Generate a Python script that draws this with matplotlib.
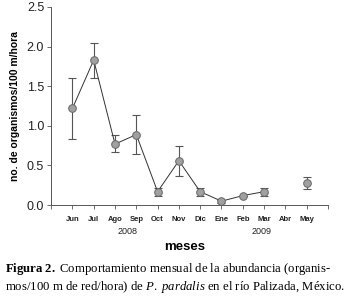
import numpy as np
import matplotlib
matplotlib.use("Agg")
import matplotlib.pyplot as plt

months = ["Jun", "Jul", "Ago", "Sep", "Oct", "Nov", "Dic", "Ene", "Feb", "Mar", "Abr", "May"]
values = [1.22, 1.83, 0.77, 0.89, 0.17, 0.56, 0.17, 0.05, 0.12, 0.17, np.nan, 0.28]
err_low = [0.38, 0.22, 0.10, 0.25, 0.05, 0.19, 0.05, 0.02, 0.0, 0.05, np.nan, 0.08]
err_high = [0.38, 0.22, 0.12, 0.25, 0.05, 0.19, 0.05, 0.02, 0.0, 0.05, np.nan, 0.08]
years = ["2008", "2009"]

plt.rcParams['font.family'] = ['Liberation Sans', 'DejaVu Sans']
plt.rcParams['mathtext.fontset'] = 'custom'
plt.rcParams['mathtext.rm'] = 'Liberation Serif'
plt.rcParams['mathtext.it'] = 'Liberation Serif:italic'
plt.rcParams['mathtext.bf'] = 'Liberation Serif:bold'

fig = plt.figure(figsize=(3.6, 3.03), dpi=100)
ax = fig.add_axes([0.142, 0.323, 0.769, 0.654])

x = np.arange(1, len(months) + 1)
vals = np.array(values, dtype=float)
ax.errorbar(x, vals, yerr=[err_low, err_high], fmt='none', ecolor='#555555',
            elinewidth=0.8, capsize=3, capthick=0.8, zorder=2)
ax.plot(x, vals, '-', color='#333333', lw=0.7, zorder=3)
ax.plot(x, vals, 'o', ms=5.5, mfc='#a0a0a0', mec='#666666', mew=0.7, zorder=4)

ax.set_xlim(0, 13)
ax.set_ylim(0, 2.5)
ax.set_yticks([0, 0.5, 1.0, 1.5, 2.0, 2.5])
ax.set_yticklabels(["0.0", "0.5", "1.0", "1.5", "2.0", "2.5"], fontsize=9)
ax.set_xticks(np.arange(0, 14))
ax.set_xticklabels([""] + months + [""], fontsize=5.5, fontweight='bold')
ax.tick_params(axis='both', length=3, width=0.6, colors='#555555', labelcolor='#222222')
ax.tick_params(axis='x', pad=5)
ax.tick_params(axis='y', pad=2)
for s in ['top', 'right']:
    ax.spines[s].set_visible(False)
for s in ['left', 'bottom']:
    ax.spines[s].set_color('#555555')
    ax.spines[s].set_linewidth(0.7)

ax.set_ylabel("no. de organismos/100 m/hora", fontsize=7.5, fontweight='bold', labelpad=5)

fig.text(128 / 360, 1 - 231 / 303, years[0], fontsize=6.5, ha='center', va='center', color='#222222')
fig.text(262 / 360, 1 - 231 / 303, years[1], fontsize=6.5, ha='center', va='center', color='#222222')
fig.text(185 / 360, 1 - 247 / 303, "meses", fontsize=9.5, fontweight='bold', ha='center', va='center')

fig.text(5 / 360, 1 - 269 / 303,
         r"$\mathbf{Figura\ 2.}$ Comportamiento mensual de la abundancia (organis-",
         fontsize=9.2, family='Liberation Serif', ha='left', va='center')
fig.text(5 / 360, 1 - 287 / 303,
         "mos/100 m de red/hora) de $\\mathit{P.\\ pardalis}$ en el río Palizada, México.",
         fontsize=9.2, family='Liberation Serif', ha='left', va='center')

fig.savefig("out.png", dpi=100)
